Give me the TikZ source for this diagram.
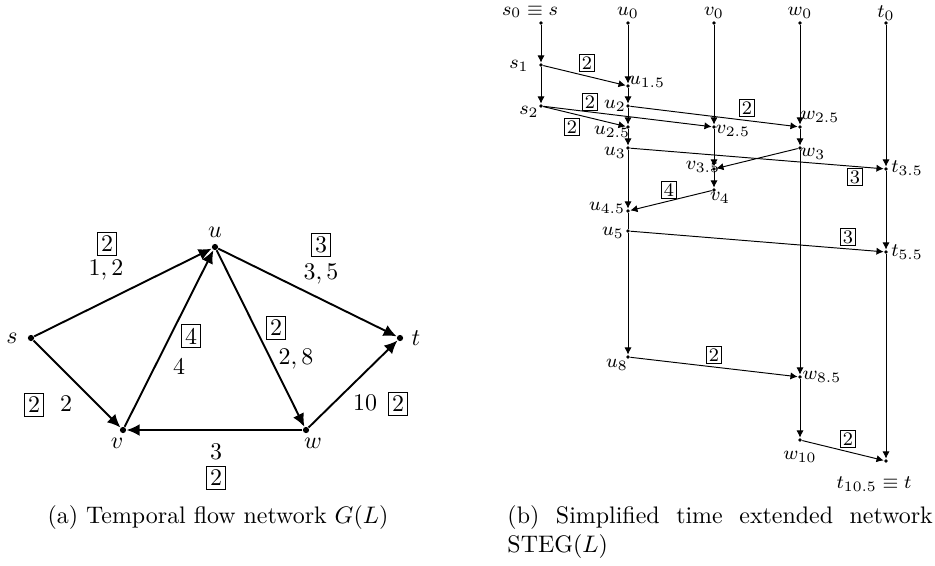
\documentclass[tikz,border=0pt]{standalone}
\usepackage{amsmath}
\usepackage{amssymb}
\usepackage{tikz}
\usetikzlibrary{arrows.meta}

\tikzset{
	vertex/.style={circle,fill,inner sep=0pt,minimum size=2.6pt},
	tvertex/.style={circle,fill,inner sep=0pt,minimum size=1.6pt},
	capbox/.style={draw,inner sep=1.5pt},
	tcapbox/.style={draw,inner sep=0.9pt,font=\footnotesize},
	tlabel/.style={font=\footnotesize,inner sep=0pt},
	flow/.style={thick,-{Latex[length=5.5pt,width=5pt]}},
	tflow/.style={-{Latex[length=3pt,width=3pt]}},
}

\begin{document}
\begin{tikzpicture}[x=0.0147cm,y=-0.0147cm]
	\useasboundingbox (0,0) rectangle (935,565);

	% (a) temporal flow network
	\node[vertex] (s) at (31,338) {};
	\node[vertex] (u) at (215,247) {};
	\node[vertex] (t) at (400,338) {};
	\node[vertex] (v) at (123,430) {};
	\node[vertex] (w) at (306,430) {};
	\node (s name) at (12,338) {$s$};
	\node (u name) at (215,232) {$u$};
	\node (t name) at (416,338) {$t$};
	\node (v name) at (117,443) {$v$};
	\node (w name) at (313,443) {$w$};

	\draw[flow] (s) -- (u);
	\draw[flow] (u) -- (t);
	\draw[flow] (s) -- (v);
	\draw[flow] (v) -- (u);
	\draw[flow] (u) -- (w);
	\draw[flow] (w) -- (t);
	\draw[flow] (w) -- (v);

	\node[capbox] (su cap) at (107,244) {2};
	\node (su time) at (106,270) {$1,2$};
	\node[capbox] (ut cap) at (321,245) {3};
	\node (ut time) at (321,274) {$3,5$};
	\node[capbox] (sv cap) at (34,405) {2};
	\node (sv time) at (66,404) {$2$};
	\node[capbox] (vu cap) at (191,336) {4};
	\node (vu time) at (179,367) {$4$};
	\node[capbox] (uw cap) at (276,328) {2};
	\node (uw time) at (296,359) {$2,8$};
	\node (wt time) at (365,403) {$10$};
	\node[capbox] (wt cap) at (398,404) {2};
	\node (wv time) at (216,452) {$3$};
	\node[capbox] (wv cap) at (216,478) {2};

	\node (cap a) at (218,518) {(a) Temporal flow network $G(L)$};

	% (b) simplified time extended network
	\node[tvertex] (s0) at (541,23) {};
	\node[tvertex] (s1) at (541,65) {};
	\node[tvertex] (s2) at (541,106) {};
	\node[tvertex] (u0) at (628,23) {};
	\node[tvertex] (u15) at (628,86) {};
	\node[tvertex] (u2) at (628,106) {};
	\node[tvertex] (u25) at (628,127) {};
	\node[tvertex] (u3) at (628,148) {};
	\node[tvertex] (u45) at (628,211) {};
	\node[tvertex] (u5) at (628,231) {};
	\node[tvertex] (u8) at (628,357) {};
	\node[tvertex] (v0) at (714,23) {};
	\node[tvertex] (v25) at (714,127) {};
	\node[tvertex] (v35) at (714,169) {};
	\node[tvertex] (v4) at (714,190) {};
	\node[tvertex] (w0) at (800,23) {};
	\node[tvertex] (w25) at (800,127) {};
	\node[tvertex] (w3) at (800,148) {};
	\node[tvertex] (w85) at (800,377) {};
	\node[tvertex] (w10) at (800,440) {};
	\node[tvertex] (t0) at (886,23) {};
	\node[tvertex] (t35) at (886,169) {};
	\node[tvertex] (t55) at (886,252) {};
	\node[tvertex] (t105) at (886,461) {};

	% waiting arcs
	\draw[tflow] (s0) -- (s1);
	\draw[tflow] (s1) -- (s2);
	\draw[tflow] (u0) -- (u15);
	\draw[tflow] (u15) -- (u2);
	\draw[tflow] (u2) -- (u25);
	\draw[tflow] (u25) -- (u3);
	\draw[tflow] (u3) -- (u45);
	\draw (u45) -- (u5);
	\draw[tflow] (u5) -- (u8);
	\draw[tflow] (v0) -- (v25);
	\draw[tflow] (v25) -- (v35);
	\draw[tflow] (v35) -- (v4);
	\draw[tflow] (w0) -- (w25);
	\draw[tflow] (w25) -- (w3);
	\draw[tflow] (w3) -- (w85);
	\draw[tflow] (w85) -- (w10);
	\draw[tflow] (t0) -- (t35);
	\draw[tflow] (t35) -- (t55);
	\draw[tflow] (t55) -- (t105);

	% transit arcs
	\draw[tflow] (s1) -- (u15);
	\draw[tflow] (s2) -- (u25);
	\draw[tflow] (s2) -- (v25);
	\draw[tflow] (u2) -- (w25);
	\draw[tflow] (u3) -- (t35);
	\draw[tflow] (w3) -- (v35);
	\draw[tflow] (v4) -- (u45);
	\draw[tflow] (u5) -- (t55);
	\draw[tflow] (u8) -- (w85);
	\draw[tflow] (w10) -- (t105);

	\node[tcapbox] (s1u15 cap) at (587,63) {2};
	\node[tcapbox] (s2v25 cap) at (590,102) {2};
	\node[tcapbox] (s2u25 cap) at (572,127) {2};
	\node[tcapbox] (u2w25 cap) at (747,108) {2};
	\node[tcapbox] (u3t35 cap) at (855,177) {3};
	\node[tcapbox] (v4u45 cap) at (669,190) {4};
	\node[tcapbox] (u5t55 cap) at (848,237) {3};
	\node[tcapbox] (u8w85 cap) at (714,355) {2};
	\node[tcapbox] (w10t105 cap) at (848,439) {2};

	\node[tlabel] (s0 name) at (530,12) {$s_0\equiv s$};
	\node[tlabel] (u0 name) at (628,13) {$u_0$};
	\node[tlabel] (v0 name) at (714,13) {$v_0$};
	\node[tlabel] (w0 name) at (800,13) {$w_0$};
	\node[tlabel] (t0 name) at (886,13) {$t_0$};
	\node[tlabel] (s1 name) at (519,66) {$s_1$};
	\node[tlabel] (s2 name) at (529,112) {$s_2$};
	\node[tlabel] (u15 name) at (647,82) {$u_{1.5}$};
	\node[tlabel] (u2 name) at (615,106) {$u_2$};
	\node[tlabel] (u25 name) at (612,132) {$u_{2.5}$};
	\node[tlabel] (u3 name) at (615,153) {$u_3$};
	\node[tlabel] (u45 name) at (607,208) {$u_{4.5}$};
	\node[tlabel] (u5 name) at (613,233) {$u_5$};
	\node[tlabel] (u8 name) at (617,365) {$u_8$};
	\node[tlabel] (v25 name) at (733,131) {$v_{2.5}$};
	\node[tlabel] (v35 name) at (703,167) {$v_{3.5}$};
	\node[tlabel] (v4 name) at (720,198) {$v_4$};
	\node[tlabel] (w25 name) at (820,117) {$w_{2.5}$};
	\node[tlabel] (w3 name) at (813,154) {$w_3$};
	\node[tlabel] (w85 name) at (822,377) {$w_{8.5}$};
	\node[tlabel] (w10 name) at (800,457) {$w_{10}$};
	\node[tlabel] (t35 name) at (907,168) {$t_{3.5}$};
	\node[tlabel] (t55 name) at (907,252) {$t_{5.5}$};
	\node[tlabel] (t105 name) at (874,484) {$t_{10.5}\equiv t$};

	\node[anchor=north west,text width=6.25cm,align=justify,inner sep=0pt] (cap b) at (507,505)
		{(b) Simplified time extended network STEG$(L)$};
\end{tikzpicture}
\end{document}
